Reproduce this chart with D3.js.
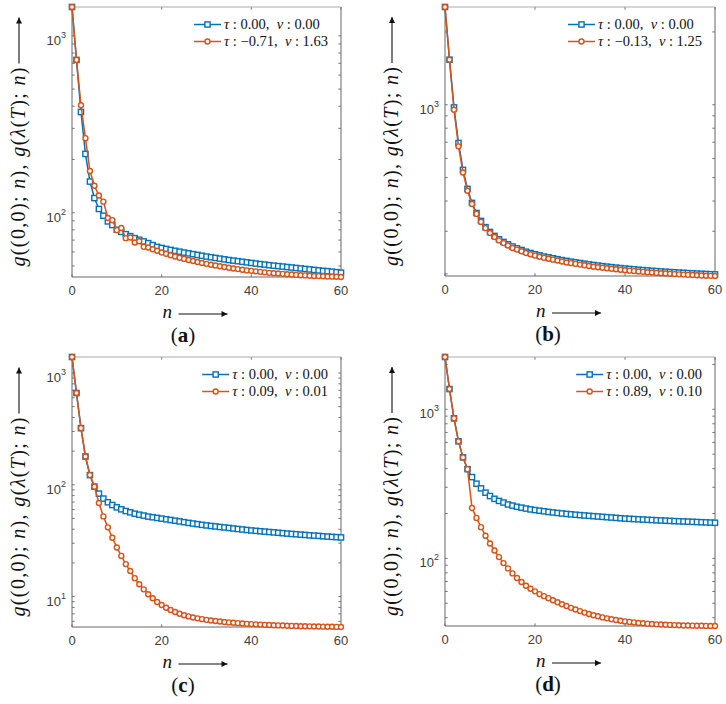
<!DOCTYPE html>
<html>
<head>
<meta charset="utf-8">
<script src="https://cdn.jsdelivr.net/npm/d3@7"></script>
<style>
  body { margin: 0; background: #fff; }
  .tick-label { font-family: "Liberation Sans", Arial, sans-serif; font-size: 13px; fill: #404040; }
  .math { font-family: "Liberation Serif", "Times New Roman", serif; fill: #111; }
</style>
</head>
<body>
<div id="fig"></div>
<script>
// n = 0 .. 60
var nValues = [0,1,2,3,4,5,6,7,8,9,10,11,12,13,14,15,16,17,18,19,20,21,22,23,24,25,26,27,28,29,30,
               31,32,33,34,35,36,37,38,39,40,41,42,43,44,45,46,47,48,49,50,51,52,53,54,55,56,57,58,59,60];

// panel (a)
var aBlue = [1456,731,371,215,150,121,105,96.2,89.3,85.2,80.1,77.9,75.6,73.7,71.8,70.3,68.8,67.3,65.6,64.1,63.2,
             62.4,61.6,60.9,60.2,59.5,58.9,58.3,57.7,57.1,56.5,56.0,55.5,55.0,54.5,54.0,53.6,53.2,52.8,52.4,52.0,
             51.6,51.2,50.9,50.5,50.2,49.9,49.6,49.3,49.0,48.7,48.4,48.1,47.8,47.5,47.2,46.9,46.7,46.4,46.1,45.8];
var aOrange = [1456,731,405,264,172,142,125,115.5,93.3,90.8,79.7,81.9,71.8,72.4,67.8,69.0,64.1,63.6,62.2,61.0,59.6,
               58.6,57.5,56.5,55.6,54.8,54.0,53.3,52.6,52.0,51.4,50.8,50.3,49.8,49.3,48.8,48.4,48.0,47.6,47.2,46.9,
               46.6,46.3,46.0,45.7,45.5,45.3,45.1,44.9,44.7,44.5,44.3,44.2,44.0,43.9,43.8,43.7,43.6,43.5,43.4,43.3];
var tauA = ["0.00", "\u22120.71"], nuA = ["0.00", "1.63"];

// panel (b)
var bBlue = [2535,1535,975,695,538,449,393,357,331,312,298,287,278,271,265,259.5,255,251,247,244,241,
             238.5,236,234,232,230,228,226.3,224.7,223.2,221.7,220.3,218.9,217.6,216.4,215.3,214.2,213.2,212.2,211.3,210.4,
             209.6,208.8,208.0,207.3,206.6,205.9,205.3,204.7,204.1,203.5,203.0,202.5,202.0,201.5,201.0,200.6,200.2,199.8,199.4,199.0];
var bOrange = [2535,1535,953,673,525,441,389,354,328,309,295,284,275,268,262,256,252,248,244,241,238,
               235.5,233,231,229,227,225,223,221.5,220,218.5,217,215.5,214,213,212,211,210,209,208,207,
               206.2,205.4,204.6,203.9,203.2,202.5,201.9,201.3,200.7,200.1,199.6,199.1,198.6,198.2,197.8,197.4,197.0,196.6,196.3,196.0];
var tauB = ["0.00", "\u22120.13"], nuB = ["0.00", "1.25"];

// panel (c)
var cBlue = [1390,662,321,179,122,96.2,83.3,75.2,69.7,65.9,62.8,60.3,58.2,56.7,55.1,54.0,53.0,51.9,51.2,50.5,49.8,
             49.1,48.4,47.7,47.0,46.3,45.6,45.0,44.4,43.8,43.3,42.8,42.4,41.9,41.5,41.1,40.6,40.2,39.8,39.4,39.0,
             38.7,38.4,38.1,37.8,37.5,37.2,36.9,36.6,36.3,36.1,35.8,35.6,35.3,35.1,34.9,34.6,34.4,34.2,34.0,33.8];
var cOrange = [1390,662,321,179,122,96.2,68.7,52.1,41.6,33.6,27.5,23.1,19.5,16.9,14.6,12.9,11.6,10.5,9.64,8.94,8.40,
               7.95,7.57,7.27,7.02,6.81,6.64,6.50,6.38,6.28,6.19,6.11,6.04,5.98,5.92,5.87,5.82,5.78,5.74,5.70,5.67,
               5.64,5.61,5.58,5.56,5.54,5.52,5.50,5.48,5.46,5.45,5.43,5.42,5.41,5.40,5.39,5.38,5.37,5.36,5.35,5.34];
var tauC = ["0.00", "0.09"], nuC = ["0.00", "0.01"];

// panel (d)
var dBlue = [2244,1368,870,610,476,397,351,317,295,276,262,251,243,237,230,226,222,219,216,213,211,
             209,207,205,203.3,201.7,200.2,198.8,197.5,196.3,195.2,194.1,193.0,192.0,191.0,190.0,189.0,188.0,187.0,186.0,185.0,
             184.3,183.6,182.9,182.2,181.5,180.9,180.3,179.7,179.1,178.5,177.9,177.4,176.9,176.4,175.9,175.4,174.9,174.4,173.9,173.4];
var dOrange = [2244,1368,870,610,476,397,218,187,162,142,126,113,102,93,85.7,79.3,73.8,69.4,65.6,62.6,60.1,
               57.6,55.8,54.1,52.4,50.8,49.3,47.9,46.6,45.4,44.3,43.3,42.4,41.6,40.9,40.2,39.6,39.1,38.6,38.2,37.8,
               37.5,37.2,36.9,36.7,36.5,36.3,36.1,36.0,35.9,35.8,35.7,35.6,35.5,35.45,35.4,35.35,35.3,35.25,35.2,35.2];
var tauD = ["0.00", "0.89"], nuD = ["0.00", "0.10"];

var xTicks = [0, 20, 40, 60];
var panelNames = ["a", "b", "c", "d"];

var blue = "#0072BD", orange = "#D95319";

var panels = [
  {name: panelNames[0], left: 72,  top: 7,   w: 269, h: 270, labelX: 183, s1: aBlue, s2: aOrange, tau: tauA, nu: nuA},
  {name: panelNames[1], left: 445, top: 7,   w: 270, h: 269, labelX: 548, s1: bBlue, s2: bOrange, tau: tauB, nu: nuB},
  {name: panelNames[2], left: 72,  top: 357, w: 269, h: 270, labelX: 183, s1: cBlue, s2: cOrange, tau: tauC, nu: nuC},
  {name: panelNames[3], left: 445, top: 357, w: 270, h: 269, labelX: 548, s1: dBlue, s2: dOrange, tau: tauD, nu: nuD}
];

var svg = d3.select("#fig").append("svg")
    .attr("width", 726)
    .attr("height", 704);

svg.append("defs").append("marker")
    .attr("id", "arrow")
    .attr("viewBox", "0 0 10 10")
    .attr("refX", 10).attr("refY", 5)
    .attr("markerWidth", 9).attr("markerHeight", 6)
    .attr("markerUnits", "userSpaceOnUse")
    .attr("orient", "auto")
    .append("path").attr("d", "M0,0 L10,5 L0,10 Z").attr("fill", "#111");

panels.forEach(function(p) { drawPanel(p); });

function drawPanel(p) {
    var g = svg.append("g");
    var right = p.left + p.w, bottom = p.top + p.h;
    var all = p.s1.concat(p.s2);

    var x = d3.scaleLinear().domain([0, 60]).range([p.left, right]);
    var y = d3.scaleLog().domain(d3.extent(all)).range([bottom, p.top]);

    // ticks
    var tl = 2.7;
    var lo = y.domain()[0], hi = y.domain()[1];
    var major = [], minor = [];
    for (var e = Math.floor(Math.log10(lo)); e <= Math.ceil(Math.log10(hi)); e++) {
        for (var k = 1; k < 10; k++) {
            var v = k * Math.pow(10, e);
            if (v >= lo && v <= hi) (k == 1 ? major : minor).push({v: v, e: e});
        }
    }
    var yt = major.concat(minor);
    g.selectAll(".ytl").data(yt).enter().append("line")
        .attr("x1", p.left).attr("x2", p.left + tl)
        .attr("y1", function(d) { return y(d.v); }).attr("y2", function(d) { return y(d.v); })
        .attr("stroke", "#555").attr("stroke-width", 0.8);
    g.selectAll(".ytr").data(yt).enter().append("line")
        .attr("x1", right).attr("x2", right - tl)
        .attr("y1", function(d) { return y(d.v); }).attr("y2", function(d) { return y(d.v); })
        .attr("stroke", "#555").attr("stroke-width", 0.8);
    g.selectAll(".xtb").data(xTicks).enter().append("line")
        .attr("x1", x).attr("x2", x)
        .attr("y1", bottom).attr("y2", bottom - tl)
        .attr("stroke", "#555").attr("stroke-width", 0.8);
    g.selectAll(".xtt").data(xTicks).enter().append("line")
        .attr("x1", x).attr("x2", x)
        .attr("y1", p.top).attr("y2", p.top + tl)
        .attr("stroke", "#555").attr("stroke-width", 0.8);

    // tick labels
    g.selectAll(".xlab").data(xTicks).enter().append("text")
        .attr("class", "tick-label")
        .attr("x", x).attr("y", bottom + 18)
        .attr("text-anchor", "middle")
        .text(function(d) { return d; });
    var ylab = g.selectAll(".ylab").data(major).enter().append("text")
        .attr("class", "tick-label")
        .attr("x", p.left - 6).attr("y", function(d) { return y(d.v) + 9; })
        .attr("text-anchor", "end");
    ylab.append("tspan").text("10");
    ylab.append("tspan").attr("font-size", "9px").attr("dy", -7).text(function(d) { return d.e; });

    // frame
    g.append("line").attr("x1", p.left).attr("x2", p.left).attr("y1", p.top).attr("y2", bottom)
        .attr("stroke", "#666").attr("stroke-width", 1);
    g.append("line").attr("x1", p.left).attr("x2", right).attr("y1", bottom).attr("y2", bottom)
        .attr("stroke", "#666").attr("stroke-width", 1);
    g.append("line").attr("x1", right).attr("x2", right).attr("y1", p.top).attr("y2", bottom)
        .attr("stroke", "#666").attr("stroke-width", 1);
    g.append("line").attr("x1", p.left).attr("x2", right).attr("y1", p.top).attr("y2", p.top)
        .attr("stroke", "#aaa").attr("stroke-width", 1);

    // series
    var line = d3.line()
        .x(function(d, i) { return x(nValues[i]); })
        .y(function(d) { return y(d); });

    g.append("path").datum(p.s1)
        .attr("d", line).attr("fill", "none")
        .attr("stroke", blue).attr("stroke-width", 1.5);
    g.selectAll(".sq").data(p.s1).enter().append("rect")
        .attr("x", function(d, i) { return x(nValues[i]) - 2.6; })
        .attr("y", function(d) { return y(d) - 2.6; })
        .attr("width", 5.2).attr("height", 5.2)
        .attr("fill", "#fff").attr("stroke", blue).attr("stroke-width", 1.4);

    g.append("path").datum(p.s2)
        .attr("d", line).attr("fill", "none")
        .attr("stroke", orange).attr("stroke-width", 1.5);
    g.selectAll(".ci").data(p.s2).enter().append("circle")
        .attr("cx", function(d, i) { return x(nValues[i]); })
        .attr("cy", function(d) { return y(d); })
        .attr("r", 2.5)
        .attr("fill", "#fff").attr("stroke", orange).attr("stroke-width", 1.4);

    // legend
    var leg = g.append("g");
    var widths = [];
    [0, 1].forEach(function(i) {
        var t = leg.append("text").attr("class", "math")
            .attr("font-size", "14.5px")
            .attr("x", 0).attr("y", i * 17);
        t.append("tspan").attr("font-style", "italic").text("\u03C4");
        t.append("tspan").text(" : " + p.tau[i] + ",\u2002");
        t.append("tspan").attr("font-style", "italic").text("\u03BD");
        t.append("tspan").text(" : " + p.nu[i]);
        widths.push(t.node().getComputedTextLength());
    });
    var lw = d3.max(widths);
    leg.attr("transform", "translate(" + (right - 13 - lw) + "," + (p.top + 22) + ")");
    leg.append("line").attr("x1", -30).attr("x2", -3).attr("y1", -4.5).attr("y2", -4.5)
        .attr("stroke", blue).attr("stroke-width", 1.5);
    leg.append("rect").attr("x", -19.1).attr("y", -7.1).attr("width", 5.2).attr("height", 5.2)
        .attr("fill", "#fff").attr("stroke", blue).attr("stroke-width", 1.4);
    leg.append("line").attr("x1", -30).attr("x2", -3).attr("y1", 12.5).attr("y2", 12.5)
        .attr("stroke", orange).attr("stroke-width", 1.5);
    leg.append("circle").attr("cx", -16.5).attr("cy", 12.5).attr("r", 2.5)
        .attr("fill", "#fff").attr("stroke", orange).attr("stroke-width", 1.4);

    // y label
    var cy = (p.top + bottom) / 2;
    var yl = g.append("g").attr("transform", "translate(" + (p.left - 47) + "," + cy + ") rotate(-90)");
    var yt2 = yl.append("text").attr("class", "math").attr("font-size", "20px");
    var parts = [["g", 1], ["((0,0); ", 0], ["n", 1], "), ", ["g", 1], ["(", 0], ["\u03BB", 1], ["(", 0], ["T", 1], ["); ", 0], ["n", 1], [")", 0]];
    parts.forEach(function(pt) {
        if (typeof pt == "string") pt = [pt, 0];
        yt2.append("tspan").attr("font-style", pt[1] ? "italic" : "normal").text(pt[0]);
    });
    var L = yt2.node().getComputedTextLength();
    if (L < 196) {
        yt2.attr("textLength", 199).attr("lengthAdjust", "spacing");
        L = 199;
    }
    var total = L + 4 + 46;
    yt2.attr("x", -total / 2);
    yl.append("line")
        .attr("x1", -total / 2 + L + 4).attr("x2", total / 2)
        .attr("y1", -6).attr("y2", -6)
        .attr("stroke", "#111").attr("stroke-width", 1.1)
        .attr("marker-end", "url(#arrow)");

    // x label
    var cx = (p.left + right) / 2;
    g.append("text").attr("class", "math").attr("font-size", "19px").attr("font-style", "italic")
        .attr("x", cx - 44).attr("y", bottom + 41).text("n");
    g.append("line")
        .attr("x1", cx - 28).attr("x2", cx + 21)
        .attr("y1", bottom + 37).attr("y2", bottom + 37)
        .attr("stroke", "#111").attr("stroke-width", 1.1)
        .attr("marker-end", "url(#arrow)");

    // sub-figure label
    var sl = g.append("text").attr("class", "math").attr("font-size", "21px")
        .attr("x", p.labelX).attr("y", bottom + 65).attr("text-anchor", "middle");
    sl.append("tspan").text("(");
    sl.append("tspan").attr("font-weight", "bold").text(p.name);
    sl.append("tspan").text(")");
}
</script>
</body>
</html>
